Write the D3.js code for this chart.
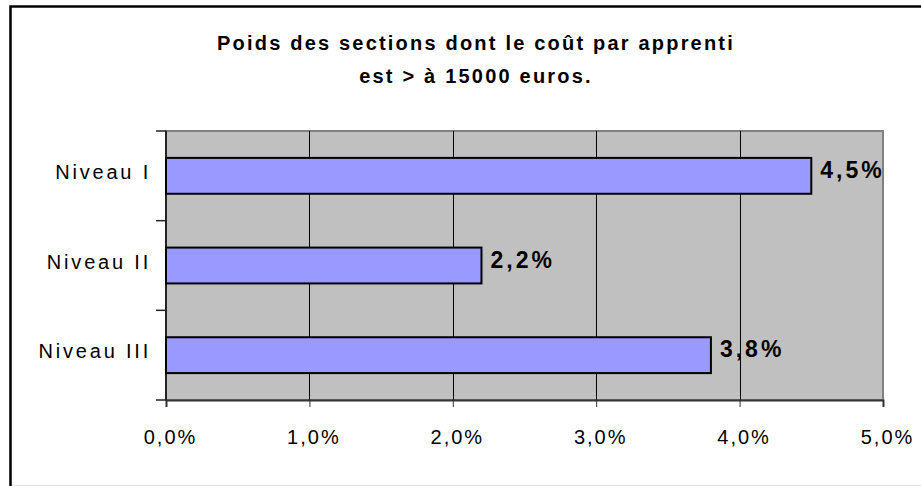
<!DOCTYPE html>
<html>
<head>
<meta charset="utf-8">
<script src="https://cdn.jsdelivr.net/npm/d3@7"></script>
<style>
  body { margin: 0; background: #fff; }
  svg { display: block; font-family: "Liberation Sans", Arial, sans-serif; }
</style>
</head>
<body>
<svg id="chart" width="921" height="486"></svg>
<script>
// ----------
var titleLines = ['Poids des sections dont le coût par apprenti', 'est > à 15000 euros.'];
var categories = ['Niveau I', 'Niveau II', 'Niveau III'];
var values = [0.045, 0.022, 0.038];
var xTicks = [0, 0.01, 0.02, 0.03, 0.04, 0.05];

var fmt = function(v) {
  return d3.format('.1%')(v).replace('.', ',');
};

var svg = d3.select('#chart');

// ----------
// outer frame (runs off the right and bottom edges)
svg.append('rect')
  .attr('x', 10.5)
  .attr('y', 6.5)
  .attr('width', 960)
  .attr('height', 520)
  .style('fill', '#fff')
  .style('stroke', '#000')
  .style('stroke-width', 2.5);

svg.append('line')
  .attr('x1', 12).attr('x2', 921)
  .attr('y1', 485.5).attr('y2', 485.5)
  .style('stroke', '#e4e4e4');

// ----------
var plot = { left: 166, top: 131, right: 883, bottom: 400 };

var x = d3.scaleLinear()
  .domain([0, 0.05])
  .range([plot.left, plot.right]);

var y = d3.scaleBand()
  .domain(categories)
  .range([plot.top, plot.bottom])
  .paddingInner(0.6)
  .paddingOuter(0.3);

// plot background
svg.append('rect')
  .attr('x', plot.left)
  .attr('y', plot.top)
  .attr('width', plot.right - plot.left)
  .attr('height', plot.bottom - plot.top)
  .style('fill', '#c0c0c0')
  .style('stroke', '#808080')
  .style('stroke-width', 2);

// gridlines
svg.append('g')
  .selectAll('line')
  .data(xTicks.slice(1, -1))
  .enter().append('line')
  .attr('x1', function(d) { return Math.round(x(d)) + 0.5; })
  .attr('x2', function(d) { return Math.round(x(d)) + 0.5; })
  .attr('y1', plot.top)
  .attr('y2', plot.bottom)
  .style('stroke', '#000')
  .style('stroke-width', 1);

// ----------
// x axis
var xAxis = svg.append('g')
  .attr('transform', 'translate(0,' + plot.bottom + ')')
  .call(d3.axisBottom(x).tickValues(xTicks).tickFormat(fmt).tickSize(7).tickPadding(0));

xAxis.select('.domain').style('stroke', '#333').style('stroke-width', 2);
xAxis.selectAll('.tick line').style('stroke', '#333').style('stroke-width', 1);
xAxis.selectAll('.tick text')
  .attr('dy', null)
  .attr('y', 44)
  .attr('dx', 4)
  .style('font-size', '20px')
  .style('letter-spacing', '2px')
  .style('fill', '#000');

// y axis: ticks on band boundaries
var yEdges = categories.map(function(c) { return y(c) - y.step() * y.paddingInner() / 2; });
yEdges[0] = plot.top;
yEdges.push(plot.bottom);

svg.append('line')
  .attr('x1', plot.left).attr('x2', plot.left)
  .attr('y1', plot.top).attr('y2', plot.bottom)
  .style('stroke', '#222')
  .style('stroke-width', 2);

svg.append('g')
  .selectAll('line')
  .data(yEdges)
  .enter().append('line')
  .attr('x1', plot.left - 10)
  .attr('x2', plot.left)
  .attr('y1', function(d) { return d; })
  .attr('y2', function(d) { return d; })
  .style('stroke', '#222')
  .style('stroke-width', 1.5);

svg.append('g')
  .selectAll('text')
  .data(categories)
  .enter().append('text')
  .attr('x', plot.left - 15)
  .attr('y', function(d) { return y(d) + y.bandwidth() / 2 + 3; })
  .attr('text-anchor', 'end')
  .style('font-size', '20px')
  .style('letter-spacing', '2.8px')
  .text(function(d) { return d; });

// ----------
// bars
svg.append('g')
  .selectAll('rect')
  .data(values)
  .enter().append('rect')
  .attr('x', x(0))
  .attr('y', function(d, i) { return y(categories[i]); })
  .attr('width', function(d) { return x(d) - x(0); })
  .attr('height', y.bandwidth())
  .style('fill', '#9999ff')
  .style('stroke', '#000')
  .style('stroke-width', 2);

svg.append('g')
  .selectAll('text')
  .data(values)
  .enter().append('text')
  .attr('x', function(d) { return x(d) + 9; })
  .attr('y', function(d, i) { return y(categories[i]) + y.bandwidth() / 2 + 2; })
  .style('font-size', '23px')
  .style('font-weight', 'bold')
  .style('letter-spacing', '3px')
  .text(fmt);

// ----------
// title
svg.append('g')
  .selectAll('text')
  .data(titleLines)
  .enter().append('text')
  .attr('x', 476)
  .attr('y', function(d, i) { return 50 + i * 33; })
  .attr('text-anchor', 'middle')
  .style('font-size', '20px')
  .style('font-weight', 'bold')
  .style('letter-spacing', '2.2px')
  .text(function(d) { return d; });
</script>
</body>
</html>
